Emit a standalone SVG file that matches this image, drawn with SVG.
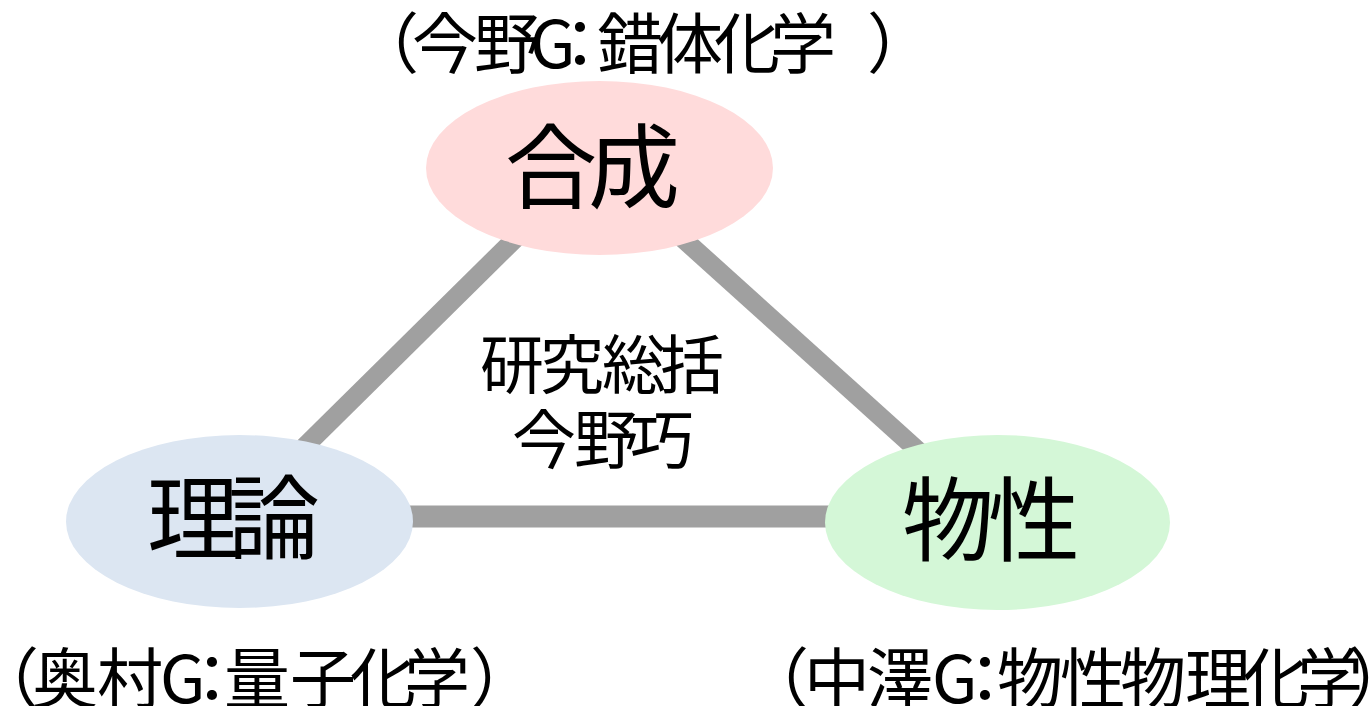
<svg xmlns="http://www.w3.org/2000/svg" width="1369" height="706" viewBox="0 0 1369 706">
<style>
.t{font-family:"Noto Sans CJK JP","Noto Sans",sans-serif;fill:#000}
.big{font-size:92px}
.lab{font-size:66px}
.mid{font-size:64px}
.c{stroke:#a0a0a0;fill:none}
</style>
<rect width="1369" height="706" fill="#ffffff"/>
<g id="connectors">
<line class="c" x1="285" y1="466" x2="530" y2="224" stroke-width="19"/>
<line class="c" x1="670" y1="227" x2="935" y2="466" stroke-width="19"/>
<line class="c" x1="400" y1="516.5" x2="840" y2="516.5" stroke-width="22"/>
</g>
<g id="node-gosei">
<ellipse cx="599.5" cy="168" rx="173.5" ry="87" fill="#ffdbdb"/>
<text class="t big" x="505 588" y="200.5">合成</text>
</g>
<g id="node-riron">
<ellipse cx="239.5" cy="521.5" rx="173.5" ry="86.5" fill="#dce6f2"/>
<text class="t big" x="147 228" y="551.5">理論</text>
</g>
<g id="node-bussei">
<ellipse cx="997.5" cy="522.5" rx="172.5" ry="87.5" fill="#d4f7d7"/>
<text class="t big" x="902 988" y="553.5">物性</text>
</g>
<g id="label-top">
<text class="t lab" x="353 412 474 530 547 597 657 714 770 867" y="67.5">（今野G：錯体化学）</text>
</g>
<g id="label-left">
<text class="t lab" x="-27 32 97 160 179 224 290 350 404 470" y="702.5">（奥村G：量子化学）</text>
</g>
<g id="label-right">
<text class="t lab" x="743 804 867 932 952 997 1060 1120 1185 1243 1297 1348" y="702.5">（中澤G：物性物理化学）</text>
</g>
<g id="center-text">
<text class="t mid" x="480 540 602 660" y="387.5">研究総括</text>
<text class="t mid" x="512 574 630" y="462.5">今野巧</text>
</g>
</svg>
